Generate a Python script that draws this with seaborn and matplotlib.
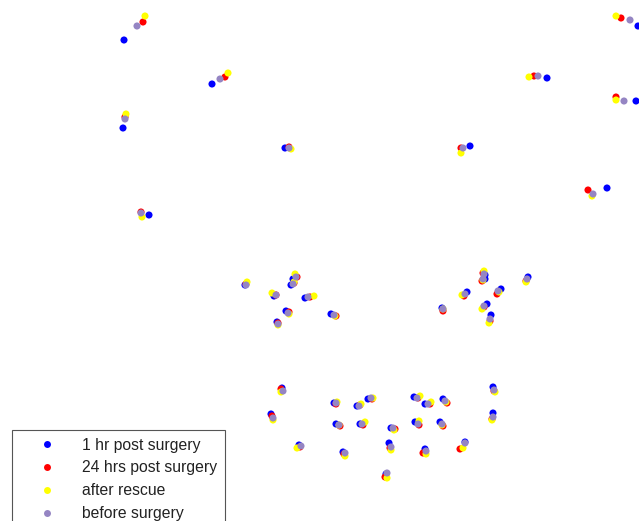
import matplotlib
matplotlib.use("Agg")
import matplotlib.pyplot as plt
import seaborn as sns
import pandas as pd

# Facial landmark positions (image coordinates, y grows downward)
series_names = ["1 hr post surgery", "24 hrs post surgery", "after rescue", "before surgery"]
series_colors = ["#0000ff", "#ff0000", "#ffff00", "#9585c3"]

hr1_x = [124, 212, 123, 285, 149, 638, 547, 636, 470, 607,
         245, 274, 293, 291, 305, 286, 277, 331,
         442, 467, 485, 485, 501, 528, 487, 491,
         282, 271, 334, 357, 368, 336, 360, 299, 343,
         414, 425, 443, 493, 493, 415, 440, 391, 389, 425, 465, 386]
hr1_y = [40, 84, 128, 148, 215, 26, 78, 101, 146, 188,
         285, 296, 279, 285, 298, 311, 322, 314,
         308, 292, 275, 279, 289, 277, 304, 315,
         388, 414, 403, 406, 399, 424, 424, 445, 452,
         397, 404, 399, 387, 413, 422, 422, 428, 443, 449, 442, 474]

hr24_x = [143, 225, 125, 289, 141, 621, 534, 616, 461, 588,
          246, 276, 297, 294, 310, 289, 278, 336,
          443, 464, 483, 482, 497, 526, 484, 490,
          281, 272, 336, 360, 372, 340, 363, 300, 344,
          418, 430, 447, 494, 492, 419, 443, 395, 390, 423, 460, 385]
hr24_y = [22, 77, 117, 147, 212, 18, 76, 97, 148, 190,
          284, 295, 277, 283, 297, 312, 323, 316,
          311, 296, 273, 281, 294, 281, 307, 321,
          389, 416, 404, 405, 399, 426, 425, 447, 454,
          398, 404, 403, 391, 419, 425, 426, 429, 448, 453, 449, 477]

rescue_x = [145, 228, 126, 291, 142, 616, 529, 616, 461, 592,
            247, 272, 295, 294, 314, 289, 278, 335,
            443, 462, 484, 483, 499, 526, 482, 489,
            281, 273, 337, 361, 373, 339, 365, 297, 345,
            420, 431, 446, 495, 492, 419, 442, 394, 391, 426, 463, 387]
rescue_y = [16, 73, 114, 149, 217, 16, 77, 100, 153, 196,
            282, 293, 274, 282, 296, 314, 325, 316,
            309, 295, 271, 280, 292, 282, 309, 323,
            392, 420, 402, 404, 398, 425, 422, 448, 456,
            396, 402, 402, 392, 420, 421, 425, 430, 450, 454, 448, 478]

before_x = [137, 220, 125, 289, 141, 630, 538, 624, 463, 593,
            246, 276, 296, 293, 308, 288, 278, 334,
            443, 465, 484, 483, 498, 527, 484, 490,
            283, 273, 336, 359, 371, 339, 362, 301, 345,
            417, 428, 445, 494, 493, 418, 442, 393, 391, 426, 465, 387]
before_y = [26, 79, 119, 148, 213, 20, 76, 101, 148, 194,
            285, 295, 277, 284, 297, 313, 324, 315,
            309, 294, 274, 279, 291, 279, 306, 319,
            391, 418, 403, 406, 398, 425, 424, 446, 453,
            398, 404, 401, 390, 417, 424, 424, 428, 447, 451, 443, 473]

frames = []
for name, xs, ys in zip(series_names,
                        [hr1_x, hr24_x, rescue_x, before_x],
                        [hr1_y, hr24_y, rescue_y, before_y]):
    frames.append(pd.DataFrame({"x": xs, "y": ys, "stage": name}))
df = pd.concat(frames, ignore_index=True)

fig = plt.figure(figsize=(6.39, 5.21), dpi=100)
ax = fig.add_axes([0, 0, 1, 1])

sns.scatterplot(data=df, x="x", y="y", hue="stage", hue_order=series_names,
                palette=dict(zip(series_names, series_colors)),
                s=26, linewidth=0, ax=ax, legend=True)

ax.set_xlim(0, 639)
ax.set_ylim(521, 0)
ax.set_axis_off()

handles, labels = ax.get_legend_handles_labels()
for h in handles:
    h.set_markersize(5)
leg = ax.legend(handles, labels, loc="upper left",
                bbox_to_anchor=(12 / 639, 1 - 430 / 521),
                bbox_transform=ax.transAxes, borderaxespad=0,
                prop={"family": "Liberation Sans", "size": 11.3},
                frameon=True, fancybox=False, framealpha=1,
                edgecolor="#555555", handlelength=3.5,
                handletextpad=0.5, labelspacing=0.5, borderpad=0.48)
leg.get_frame().set_linewidth(0.8)
for t in leg.get_texts():
    t.set_color("#222222")

fig.savefig("out.png", dpi=100)
